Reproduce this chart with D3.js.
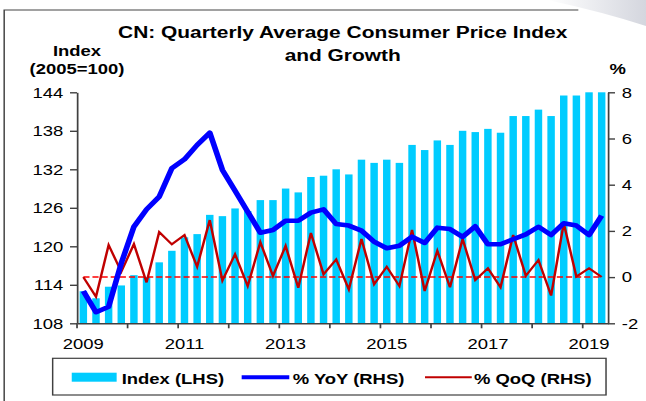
<!DOCTYPE html>
<meta charset="utf-8">
<head>
<style>
body { margin: 0; background: #fff; }
svg text { font-family: "Liberation Sans", Arial, sans-serif; fill: #000; }
.axis path, .axis line { stroke: #404040; stroke-width: 1.4px; }
.axis text { font-size: 15px; }
.title { font-size: 17px; font-weight: bold; }
.unit { font-size: 15px; font-weight: bold; }
.legend text { font-size: 15px; font-weight: bold; }
</style>
</head>
<body>
<script src="https://d3js.org/d3.v7.min.js"></script>
<script>

// quarterly data, 2009Q1 - 2019Q2
var quarters = ["2009Q1","2009Q2","2009Q3","2009Q4","2010Q1","2010Q2","2010Q3","2010Q4",
  "2011Q1","2011Q2","2011Q3","2011Q4","2012Q1","2012Q2","2012Q3","2012Q4",
  "2013Q1","2013Q2","2013Q3","2013Q4","2014Q1","2014Q2","2014Q3","2014Q4",
  "2015Q1","2015Q2","2015Q3","2015Q4","2016Q1","2016Q2","2016Q3","2016Q4",
  "2017Q1","2017Q2","2017Q3","2017Q4","2018Q1","2018Q2","2018Q3","2018Q4",
  "2019Q1","2019Q2"];

var indexVals = [113.0,111.9,113.7,113.9,115.5,115.2,117.5,119.3,
  121.4,121.9,124.9,124.7,125.9,125.5,127.2,127.2,
  129.0,128.4,130.8,131.0,132.0,131.2,133.5,133.0,
  133.5,133.0,135.8,135.0,136.5,135.8,138.0,137.8,
  138.3,137.7,140.3,140.3,141.3,140.3,143.5,143.5,
  144.0,144.0];

var yoyVals = [-0.6,-1.52,-1.28,0.6,2.18,2.93,3.48,4.71,
  5.1,5.72,6.25,4.64,3.74,2.83,1.92,2.04,
  2.44,2.44,2.79,2.93,2.3,2.23,2.01,1.53,
  1.25,1.36,1.75,1.48,2.14,2.08,1.74,2.2,
  1.42,1.42,1.64,1.85,2.18,1.82,2.33,2.23,
  1.82,2.66];

var qoqVals = [0.0,-0.85,1.39,0.23,1.43,-0.23,1.95,1.42,
  1.82,0.45,2.47,-0.15,0.99,-0.39,1.51,0.05,
  1.35,-0.46,1.91,0.12,0.76,-0.53,1.65,-0.31,
  0.45,-0.39,2.04,-0.6,1.14,-0.44,1.65,-0.13,
  0.38,-0.44,1.82,0.06,0.74,-0.8,2.33,0.02,
  0.38,0.0];

var zeroVals = quarters.map(function() { return 0; });

var leftTicks = [108,114,120,126,132,138,144];
var rightTicks = [-2,0,2,4,6,8];
var yearTicks = ["2009Q1","2010Q1","2011Q1","2012Q1","2013Q1","2014Q1",
  "2015Q1","2016Q1","2017Q1","2018Q1","2019Q1"];
var yearLabels = ["2009","2011","2013","2015","2017","2019"];

// the picture is stretched sideways, so draw in a narrower box and stretch it
var W = 646, H = 401, stretch = 1.2305, VW = W / stretch;
var plotL = 62.6, plotR = 494.1, plotT = 92.3, plotB = 323.3;

var svg = d3.select("body").append("svg")
    .attr("width", W)
    .attr("height", H)
    .attr("viewBox", "0 0 " + VW + " " + H)
    .attr("preserveAspectRatio", "none");

// corner shading and frame
var grad = svg.append("defs").append("linearGradient")
    .attr("id", "shade").attr("x1", "0").attr("y1", "0").attr("x2", "1").attr("y2", "0");
grad.append("stop").attr("offset", "0").attr("stop-color", "#ffffff");
grad.append("stop").attr("offset", "1").attr("stop-color", "#d4d6de");
svg.append("path")
    .attr("d", "M445,0 Q490,12 " + VW + ",26 L" + VW + ",0 Z")
    .attr("fill", "url(#shade)");
svg.append("path")
    .attr("d", "M3.4," + H + " L3.4,10 L470,10")
    .attr("fill", "none")
    .attr("stroke", "#444")
    .attr("stroke-width", 1.2);

var x = d3.scaleBand().domain(quarters).range([plotL, plotR])
    .paddingInner(0.41).paddingOuter(0.205);
var yL = d3.scaleLinear().domain([108, 144]).range([plotB, plotT]);
var yR = d3.scaleLinear().domain([-2, 8]).range([plotB, plotT]);
var cx = function(d, i) { return x(quarters[i]) + x.bandwidth() / 2; };

// bars
svg.append("g").selectAll("rect")
    .data(indexVals)
  .enter().append("rect")
    .attr("x", function(d, i) { return x(quarters[i]); })
    .attr("width", x.bandwidth())
    .attr("y", function(d) { return yL(d); })
    .attr("height", function(d) { return plotB - yL(d); })
    .attr("fill", "#00ccff");

// lines
var line = d3.line().x(cx).y(function(d) { return yR(d); });

svg.append("path").datum(zeroVals)
    .attr("d", line)
    .attr("fill", "none")
    .attr("stroke", "#ff0000")
    .attr("stroke-width", 1.5)
    .attr("stroke-dasharray", "5,2.4");

svg.append("path").datum(qoqVals)
    .attr("d", line)
    .attr("fill", "none")
    .attr("stroke", "#c00000")
    .attr("stroke-width", 2);

svg.append("path").datum(yoyVals)
    .attr("d", line)
    .attr("fill", "none")
    .attr("stroke", "#0000ff")
    .attr("stroke-width", 4.6)
    .attr("stroke-linejoin", "round");

// axes
var xAxis = svg.append("g")
    .attr("class", "axis")
    .attr("transform", "translate(0," + plotB + ")")
    .call(d3.axisBottom(x)
        .tickValues(yearTicks)
        .tickSize(5)
        .tickSizeOuter(0)
        .tickPadding(10.3)
        .tickFormat(function(d) {
          var yr = d.slice(0, 4);
          return yearLabels.indexOf(yr) >= 0 ? yr : "";
        }));
xAxis.selectAll(".tick line")
    .attr("transform", "translate(" + (-x.step() / 2) + ",0)");

svg.append("g")
    .attr("class", "axis")
    .attr("transform", "translate(" + plotL + ",0)")
    .call(d3.axisLeft(yL).tickValues(leftTicks).tickSize(5.7).tickSizeOuter(0).tickPadding(5.5));

svg.append("g")
    .attr("class", "axis")
    .attr("transform", "translate(" + plotR + ",0)")
    .call(d3.axisRight(yR).tickValues(rightTicks).tickSize(5.7).tickSizeOuter(0).tickPadding(5.5)
        .tickFormat(function(d) { return String(d); }));

svg.selectAll(".axis .domain").attr("stroke", "#404040");

// titles
svg.append("text").attr("class", "title")
    .attr("x", 278.5).attr("y", 38.5)
    .attr("text-anchor", "middle")
    .text("CN: Quarterly Average Consumer Price Index");
svg.append("text").attr("class", "title")
    .attr("x", 278.5).attr("y", 60.7)
    .attr("text-anchor", "middle")
    .text("and Growth");

svg.append("text").attr("class", "unit")
    .attr("x", plotL).attr("y", 56)
    .attr("text-anchor", "middle")
    .text("Index");
svg.append("text").attr("class", "unit")
    .attr("x", plotL).attr("y", 74.5)
    .attr("text-anchor", "middle")
    .text("(2005=100)");
svg.append("text").attr("class", "unit")
    .attr("x", 502).attr("y", 74.5)
    .attr("text-anchor", "middle")
    .text("%");

// legend
var legend = svg.append("g").attr("class", "legend");
legend.append("rect")
    .attr("x", 42.8).attr("y", 358.3)
    .attr("width", 449.7).attr("height", 36.7)
    .attr("fill", "#fff")
    .attr("stroke", "#404040")
    .attr("stroke-width", 1.2);

legend.append("rect")
    .attr("x", 58.3).attr("y", 372.7)
    .attr("width", 36.5).attr("height", 9)
    .attr("fill", "#00ccff");
legend.append("text").attr("x", 98.9).attr("y", 384).text("Index (LHS)");

legend.append("line")
    .attr("x1", 196.4).attr("x2", 235.1).attr("y1", 377.3).attr("y2", 377.3)
    .attr("stroke", "#0000ff").attr("stroke-width", 4);
legend.append("text").attr("x", 237.9).attr("y", 384).text("% YoY (RHS)");

legend.append("line")
    .attr("x1", 345.4).attr("x2", 383.4).attr("y1", 377.3).attr("y2", 377.3)
    .attr("stroke", "#c00000").attr("stroke-width", 2);
legend.append("text").attr("x", 385.2).attr("y", 384).text("% QoQ (RHS)");

</script>
</body>
